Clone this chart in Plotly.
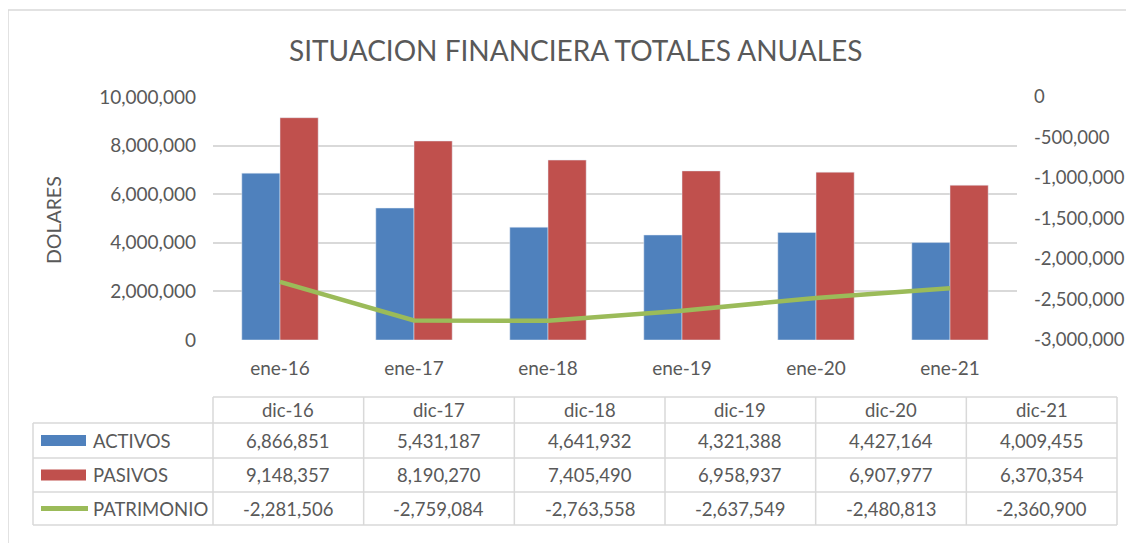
import plotly.graph_objects as go

# datos del grafico
categorias = ["ene-16", "ene-17", "ene-18", "ene-19", "ene-20", "ene-21"]
encabezados_tabla = ["dic-16", "dic-17", "dic-18", "dic-19", "dic-20", "dic-21"]
activos = [6866851, 5431187, 4641932, 4321388, 4427164, 4009455]
pasivos = [9148357, 8190270, 7405490, 6958937, 6907977, 6370354]
patrimonio = [-2281506, -2759084, -2763558, -2637549, -2480813, -2360900]
ticks_der = [0, -500000, -1000000, -1500000, -2000000, -2500000, -3000000]

# la pagina deja 8px de margen en el body
OFF = 8
W, H = 1126, 535
AZUL = "#4F81BD"
ROJO = "#C0504D"
VERDE = "#9BBB59"
GRIS_TXT = "#595959"
GRIS_LINEA = "#D9D9D9"
FUENTE = "Lato"


def px(x):
    return (x - OFF) / W


def py(y):
    return 1 - (y - OFF) / H


fig = go.Figure()
fig.add_trace(go.Bar(x=categorias, y=activos, name="ACTIVOS", marker_color=AZUL))
fig.add_trace(go.Bar(x=categorias, y=pasivos, name="PASIVOS", marker_color=ROJO))
fig.add_trace(
    go.Scatter(
        x=categorias,
        y=patrimonio,
        name="PATRIMONIO",
        mode="lines",
        line=dict(color=VERDE, width=4.5),
        yaxis="y2",
    )
)

tick_font = dict(family=FUENTE, size=19, color=GRIS_TXT)

fig.update_layout(
    width=W,
    height=H,
    autosize=False,
    margin=dict(l=0, r=0, t=0, b=0, pad=0),
    paper_bgcolor="white",
    plot_bgcolor="white",
    showlegend=False,
    barmode="group",
    bargap=0.43,
    bargroupgap=0,
    font=dict(family=FUENTE, color=GRIS_TXT),
    xaxis=dict(
        domain=[px(213), px(1017)],
        type="category",
        range=[-0.5, 5.5],
        automargin=False,
        showgrid=False,
        showline=False,
        ticks="",
        tickfont=tick_font,
        ticklabelstandoff=15,
    ),
    yaxis=dict(
        domain=[py(340), py(97)],
        range=[0, 10000000],
        dtick=2000000,
        tickformat=",d",
        automargin=False,
        showgrid=True,
        gridcolor=GRIS_LINEA,
        gridwidth=1.5,
        zeroline=False,
        ticks="",
        tickfont=tick_font,
        ticklabelstandoff=16,
    ),
    yaxis2=dict(
        overlaying="y",
        side="right",
        anchor="x",
        range=[-3000000, 0],
        tickvals=ticks_der,
        ticktext=[f"{v:,}" for v in ticks_der],
        automargin=False,
        showgrid=False,
        zeroline=False,
        ticks="",
        tickfont=dict(family=FUENTE, size=18.5, color=GRIS_TXT),
        ticklabelstandoff=16,
    ),
)

shapes = []
annots = []


def texto(t, x, y, size, anchor="center", angle=0):
    annots.append(dict(text=t, x=px(x), y=py(y), xref="paper", yref="paper",
                       xanchor=anchor, yanchor="middle", showarrow=False,
                       textangle=angle,
                       font=dict(family=FUENTE, size=size, color=GRIS_TXT)))


# borde del grafico
shapes.append(dict(type="rect", xref="paper", yref="paper",
                   x0=px(8), x1=px(1150), y0=py(10), y1=py(560),
                   line=dict(color=GRIS_LINEA, width=1.5)))

# titulo y titulo del eje
texto("SITUACION FINANCIERA TOTALES ANUALES", 575, 50, 28)
texto("DOLARES", 53, 220, 19.5, angle=-90)

# tabla de datos
col_x = [213 + i * (1117 - 213) / 6 for i in range(7)]
row_y = [397, 423, 458, 492, 525]
left_x = 33
linea = dict(color=GRIS_LINEA, width=1.5)

# lineas horizontales
shapes.append(dict(type="line", xref="paper", yref="paper",
                   x0=px(col_x[0]), x1=px(col_x[-1]), y0=py(row_y[0]), y1=py(row_y[0]), line=linea))
for yy in row_y[1:]:
    shapes.append(dict(type="line", xref="paper", yref="paper",
                       x0=px(left_x), x1=px(col_x[-1]), y0=py(yy), y1=py(yy), line=linea))
# lineas verticales
shapes.append(dict(type="line", xref="paper", yref="paper",
                   x0=px(left_x), x1=px(left_x), y0=py(row_y[1]), y1=py(row_y[-1]), line=linea))
for xx in col_x:
    shapes.append(dict(type="line", xref="paper", yref="paper",
                       x0=px(xx), x1=px(xx), y0=py(row_y[0]), y1=py(row_y[-1]), line=linea))

TAM_TABLA = 18.5
for i, h in enumerate(encabezados_tabla):
    cx = (col_x[i] + col_x[i + 1]) / 2
    texto(h, cx, (row_y[0] + row_y[1]) / 2, TAM_TABLA)

series = [("ACTIVOS", activos, AZUL, "bar"),
          ("PASIVOS", pasivos, ROJO, "bar"),
          ("PATRIMONIO", patrimonio, VERDE, "line")]
for r, (nombre, vals, color, tipo) in enumerate(series):
    cy = (row_y[r + 1] + row_y[r + 2]) / 2
    if tipo == "bar":
        shapes.append(dict(type="rect", xref="paper", yref="paper",
                           x0=px(41), x1=px(86), y0=py(cy - 5.5), y1=py(cy + 5.5),
                           fillcolor=color, line=dict(width=0)))
    else:
        shapes.append(dict(type="line", xref="paper", yref="paper",
                           x0=px(41), x1=px(88), y0=py(cy), y1=py(cy),
                           line=dict(color=color, width=5)))
    texto(nombre, 91, cy, TAM_TABLA, anchor="left")
    for i, v in enumerate(vals):
        cx = (col_x[i] + col_x[i + 1]) / 2
        texto(f"{v:,}", cx, cy, TAM_TABLA)

fig.update_layout(shapes=shapes, annotations=annots)

fig.write_html("out.html")
